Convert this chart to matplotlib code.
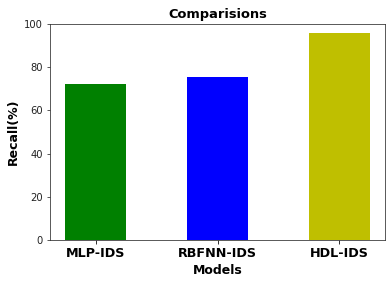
import matplotlib
matplotlib.use("Agg")
import matplotlib.pyplot as plt

# Recall comparison of the three IDS models
models  = ["MLP-IDS", "RBFNN-IDS", "HDL-IDS"]
recall  = [72.2, 75.5, 95.8]
colours = ["g", "b", "y"]

fig = plt.figure(figsize=(392 / 72, 284 / 72), dpi=72)
ax = fig.add_axes([50 / 392, 1 - 240 / 284, 335 / 392, 216 / 284])

ax.bar(models, recall, color=colours, width=0.5)

ax.set_ylim(0, 100)
ax.set_title("Comparisions", fontsize=13, fontweight="bold")
ax.set_xlabel("Models", fontsize=12.5, fontweight="bold")
ax.set_ylabel("Recall(%)", fontsize=12.5, fontweight="bold")
ax.tick_params(axis="x", labelsize=12.8)
ax.tick_params(axis="y", labelsize=10, colors="#333333", labelcolor="#222222")
for lab in ax.get_xticklabels():
    lab.set_fontweight("bold")
for sp in ax.spines.values():
    sp.set_color("#333333")

fig.savefig("out.png", dpi=72)
